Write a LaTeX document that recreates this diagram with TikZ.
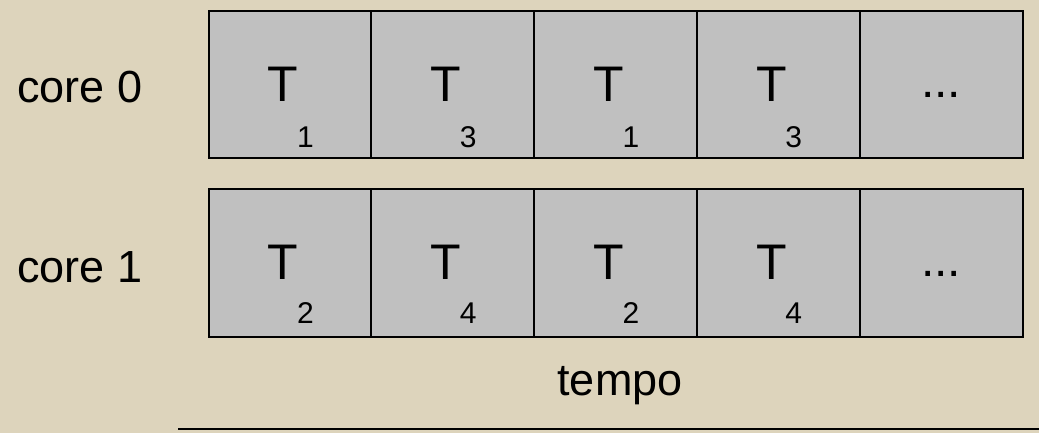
\documentclass[tikz,border=0pt]{standalone}
\usepackage{fontspec}
\setmainfont{Liberation Sans}
\definecolor{bgbeige}{RGB}{221,212,188}
\definecolor{cellgray}{RGB}{192,192,192}
\begin{document}
\begin{tikzpicture}[x=1pt,y=-1pt,
  cell/.style={draw=black,line width=2pt,fill=cellgray,minimum width=162.8pt,minimum height=147.5pt,inner sep=0pt,anchor=north west},
  tlabel/.style={inner sep=0pt,font=\fontsize{50}{60}\selectfont},
  sublabel/.style={inner sep=0pt,anchor=base,font=\fontsize{30}{36}\selectfont},
  rowlabel/.style={inner sep=0pt,anchor=base west,font=\fontsize{45}{54}\selectfont},
  dots/.style={inner sep=0pt,anchor=base,font=\fontsize{48}{56}\selectfont}]
\fill[bgbeige] (0,0) rectangle (1039,433);
\useasboundingbox (0,0) rectangle (1039,433);
% row 0
\node[cell] (a1) at (207.5,10) {};
\node[cell] (a2) at (370.3,10) {};
\node[cell] (a3) at (533.1,10) {};
\node[cell] (a4) at (695.9,10) {};
\node[cell] (a5) at (858.7,10) {};
% row 1
\node[cell] (b1) at (207.5,188) {};
\node[cell] (b2) at (370.3,188) {};
\node[cell] (b3) at (533.1,188) {};
\node[cell] (b4) at (695.9,188) {};
\node[cell] (b5) at (858.7,188) {};
% labels row 0
\foreach \c/\s in {a1/1,a2/3,a3/1,a4/3}{
  \node[tlabel] (\c T) at ([xshift=-7pt]\c.center) {T};
  \node[sublabel] (\c S) at ([xshift=15.5pt,yshift=-63pt]\c.center) {\s};
}
\node[dots] (a5D) at ([yshift=-13pt]a5.center) {...};
% labels row 1
\foreach \c/\s in {b1/2,b2/4,b3/2,b4/4}{
  \node[tlabel] (\c T) at ([xshift=-7pt]\c.center) {T};
  \node[sublabel] (\c S) at ([xshift=15.5pt,yshift=-61pt]\c.center) {\s};
}
\node[dots] (b5D) at ([yshift=-14pt]b5.center) {...};
% row labels
\node[rowlabel] (core0) at (17,103) {core 0};
\node[rowlabel] (core1) at (17,282) {core 1};
% time axis
\node[inner sep=0pt,anchor=base,font=\fontsize{45}{54}\selectfont] (tempo) at (620,395) {tempo};
\coordinate (axL) at (178,429);
\coordinate (axR) at (1039,429);
\draw[line width=2pt] (axL) -- (axR);
\end{tikzpicture}
\end{document}
